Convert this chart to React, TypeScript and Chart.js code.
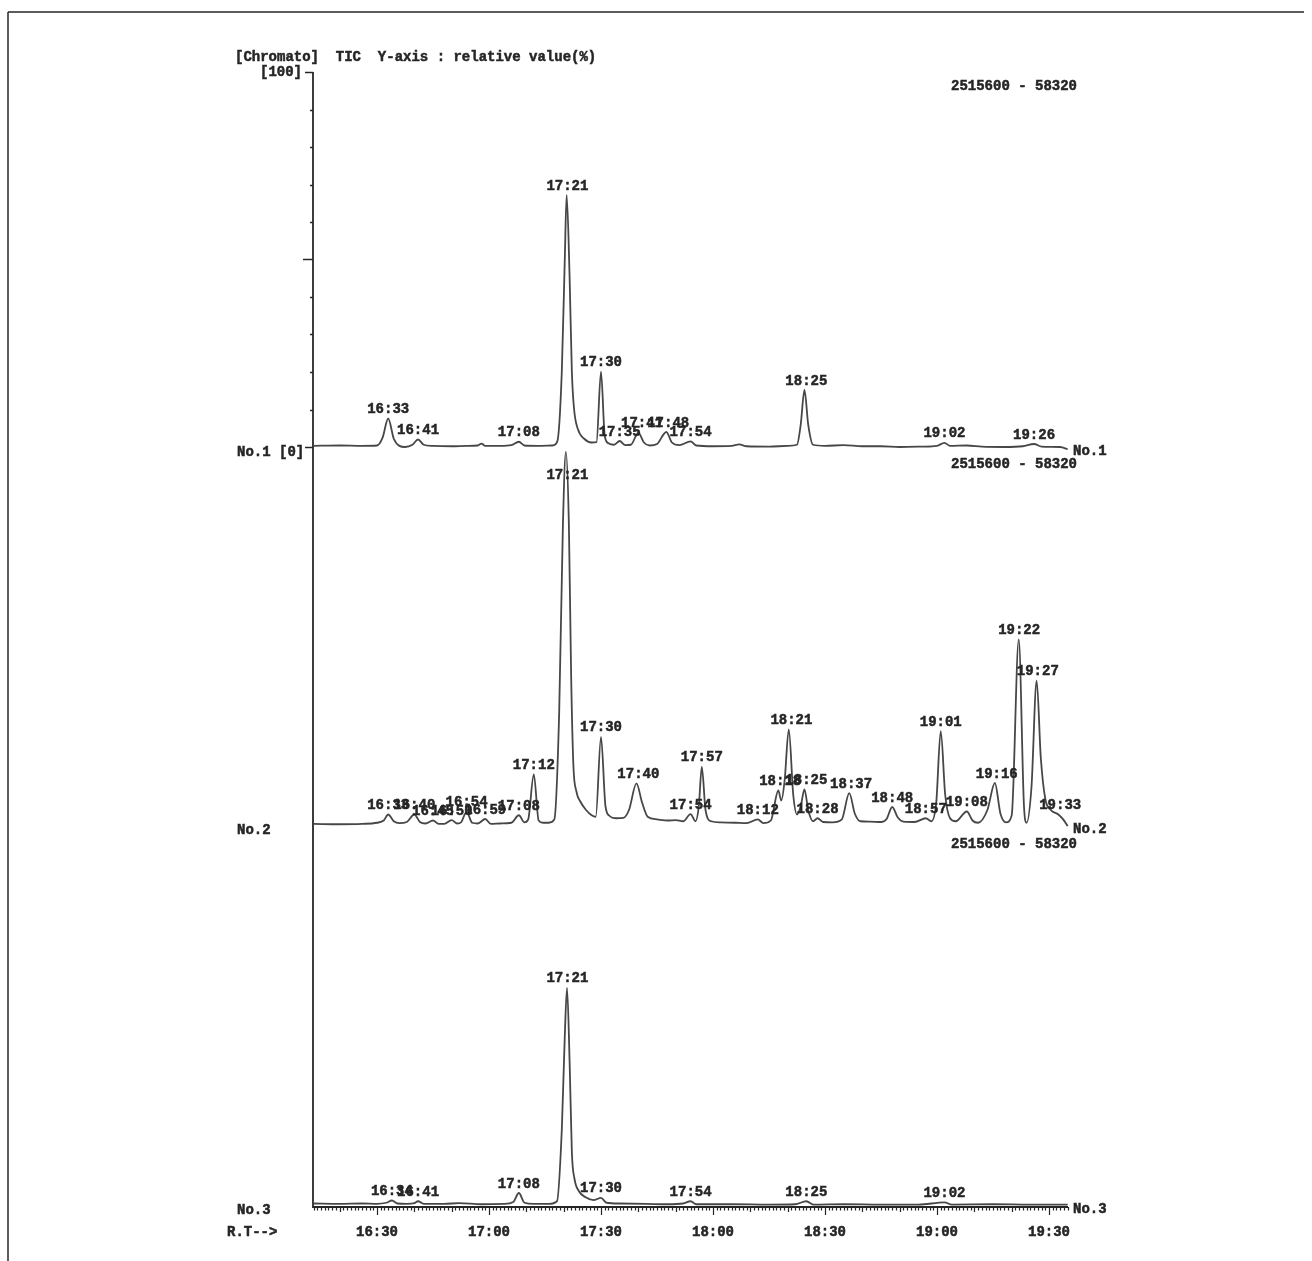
import React, { useEffect, useRef } from 'react';
import { Chart, registerables } from 'chart.js';

Chart.register(...registerables);

// ---------------- DATA (retention time in seconds, relative intensity in %) ----------------
const TRACE1: [number, number][] = [
  [973, 0.3], [980, 0.4], [986, 0.3], [990, 0.4], [991.5, 2.5], [993, 7.6], [994.5, 2.2], [996, 0.3],
  [997.5, 0.0], [999.5, 0.6], [1001, 2.0], [1002.5, 0.6], [1005, 0.3], [1010, 0.2], [1014, 0.3],
  [1017, 0.4], [1018, 0.9], [1019, 0.3], [1023, 0.3], [1026, 0.5], [1028, 1.4], [1029.5, 0.4],
  [1033, 0.3], [1037, 0.4], [1038.3, 1.5], [1039.5, 20], [1040.3, 50], [1040.8, 67.2], [1041.6, 45],
  [1042.2, 20], [1042.8, 10], [1043.8, 4.8], [1045.5, 2.2], [1047.5, 1.2], [1048.8, 1.3], [1050, 20.1],
  [1051, 3], [1052, 1.0], [1053.5, 0.6], [1055, 1.6], [1056.5, 0.5], [1058, 0.6], [1060, 3.8],
  [1061.5, 1.2], [1063, 0.4], [1065, 0.8], [1067.5, 4.0], [1069, 1.2], [1071, 0.5], [1074, 1.5],
  [1075.5, 0.4], [1080, 0.2], [1085, 0.3], [1087, 0.7], [1089, 0.2], [1095, 0.1], [1100, 0.3],
  [1102.5, 0.6], [1103.5, 6], [1104.5, 15.2], [1105.5, 6], [1106.8, 0.6], [1110, 0.3], [1115, 0.5],
  [1120, 0.2], [1125, 0.2], [1130, 0.0], [1136, 0.1], [1140, 0.3], [1142, 1.1], [1143.5, 0.3],
  [1148, 0.4], [1152, 0.1], [1158, 0.0], [1163, 0.2], [1166, 0.8], [1168, 0.1], [1173, 0.0], [1175, -0.6],
];

const TRACE2: [number, number][] = [
  [973, 0.3], [980, 0.2], [986, 0.3], [990, 0.6], [991.8, 1.2], [993, 2.8], [994.5, 1.0], [996, 0.5],
  [998, 0.8], [1000, 2.8], [1001.5, 0.8], [1003, 0.4], [1005, 1.2], [1006.5, 0.3], [1008, 0.3],
  [1010, 1.3], [1011.5, 0.4], [1012.5, 0.7], [1014, 3.5], [1015.5, 0.6], [1017, 0.4], [1019, 1.6],
  [1020.5, 0.3], [1023, 0.4], [1026, 0.6], [1028, 2.6], [1029.5, 0.7], [1030.5, 1.5], [1032, 13.5],
  [1033.3, 1.2], [1034.5, 0.6], [1036, 0.6], [1037.5, 1.5], [1038.8, 30], [1039.8, 80], [1040.6, 99.5],
  [1041.4, 80], [1042.0, 40], [1042.6, 16], [1043.4, 9], [1044.5, 6.2], [1046, 4.0], [1047.5, 2.6],
  [1048.6, 2.2], [1050, 23.5], [1051.2, 5], [1052.3, 2.4], [1054, 1.8], [1056, 1.9], [1057.5, 4],
  [1059.5, 11.1], [1061, 6], [1062.5, 2.2], [1065, 1.5], [1068, 1.2], [1070, 1.3], [1072, 1.0],
  [1074, 2.9], [1075.3, 1.0], [1076.2, 5], [1077, 15.5], [1078, 4], [1079.5, 1.0], [1082, 0.7],
  [1086, 0.6], [1089, 0.5], [1092, 1.5], [1093.5, 0.5], [1095.5, 1.2], [1097.5, 9.2], [1098.3, 6.5],
  [1099.2, 12], [1100.3, 25.5], [1101.5, 8], [1102.5, 2.8], [1103.5, 5], [1104.5, 9.5], [1105.5, 4],
  [1106.8, 1.0], [1108, 1.8], [1109.5, 0.8], [1112, 0.7], [1114.5, 1.5], [1116.5, 8.5], [1118, 3],
  [1119.5, 1.0], [1122, 0.9], [1125, 0.8], [1126.5, 1.6], [1128, 4.8], [1129.5, 2.0], [1131, 0.9],
  [1134, 0.8], [1137, 1.8], [1138.5, 1.0], [1139.8, 6], [1141, 25], [1142.2, 8], [1143.5, 1.8],
  [1145, 1.0], [1148, 3.6], [1149.5, 1.2], [1151, 0.6], [1153.5, 4], [1155.5, 11.2], [1157, 3],
  [1158.5, 0.7], [1160, 2.5], [1161.9, 49.5], [1163.3, 5], [1164, 0.6], [1165.3, 10], [1166.7, 38.5],
  [1167.8, 18], [1169, 7], [1170.5, 4.0], [1172.5, 2.8], [1173.8, 1.5], [1175, -0.3],
];

const TRACE3: [number, number][] = [
  [973, 0.4], [980, 0.3], [986, 0.4], [990, 0.3], [992.5, 0.6], [994, 1.2], [995.5, 0.4], [998, 0.3],
  [1000, 0.5], [1001, 1.0], [1002.5, 0.3], [1008, 0.3], [1012, 0.5], [1018, 0.2], [1024, 0.3],
  [1026.5, 0.8], [1028, 3.2], [1029.5, 0.6], [1032, 0.3], [1036, 0.3], [1038.2, 1.0], [1039.5, 20],
  [1040.3, 45], [1040.9, 57.9], [1041.6, 38], [1042.2, 14], [1042.9, 7], [1044, 3.8], [1046, 2.0],
  [1048, 1.3], [1050, 1.9], [1051.5, 0.6], [1055, 0.4], [1062, 0.3], [1068, 0.2], [1072, 0.4],
  [1074, 1.0], [1075.5, 0.2], [1085, 0.2], [1095, 0.1], [1102, 0.2], [1105, 1.0], [1107, 0.1],
  [1115, 0.2], [1125, 0.1], [1135, 0.1], [1142, 0.7], [1144, 0.1], [1155, 0.2], [1165, 0.1], [1175, 0.1],
];

const PEAKS1: [number, string][] = [
  [993, '16:33'], [1001, '16:41'], [1028, '17:08'], [1041, '17:21'], [1050, '17:30'], [1055, '17:35'],
  [1061, '17:41'], [1068, '17:48'], [1074, '17:54'], [1105, '18:25'], [1142, '19:02'], [1166, '19:26'],
];

const PEAKS2: [number, string][] = [
  [993, '16:33'], [1000, '16:40'], [1005, '16:45'], [1010, '16:50'], [1014, '16:54'], [1019, '16:59'],
  [1028, '17:08'], [1032, '17:12'], [1041, '17:21'], [1050, '17:30'], [1060, '17:40'], [1074, '17:54'],
  [1077, '17:57'], [1092, '18:12'], [1098, '18:18'], [1101, '18:21'], [1105, '18:25'], [1108, '18:28'],
  [1117, '18:37'], [1128, '18:48'], [1137, '18:57'], [1141, '19:01'], [1148, '19:08'], [1156, '19:16'],
  [1162, '19:22'], [1167, '19:27'], [1173, '19:33'],
];

const PEAKS3: [number, string][] = [
  [994, '16:34'], [1001, '16:41'], [1028, '17:08'], [1041, '17:21'], [1050, '17:30'], [1074, '17:54'],
  [1105, '18:25'], [1142, '19:02'],
];

const X_TICKS = [990, 1020, 1050, 1080, 1110, 1140, 1170];
const X_TICK_LABELS = ['16:30', '17:00', '17:30', '18:00', '18:30', '19:00', '19:30'];
const Y_TICKS = [0, 10, 20, 30, 40, 50, 60, 70, 80, 90, 100];
const TRACE_NAMES = ['No.1', 'No.2', 'No.3'];
const RANGE_TEXT = '2515600 - 58320';
const HEADER = '[Chromato]  TIC  Y-axis : relative value(%)';

// ---------------- LAYOUT ----------------
const W = 1312;
const H = 1261;
const AREA = { left: 313, right: 1068, top: 72, bottom: 1207 };
const X_MIN = 972.86;
const X_MAX = 1175.09;
const ZERO_PX = [447, 825, 1205];
const PX_PER_PCT = 3.75;
const INK = '#262626';
const LINE = '#474747';
const FONT = 'bold 14px "Liberation Mono", "DejaVu Sans Mono", monospace';

const yRange = (zero: number) => ({
  min: -(AREA.bottom - zero) / PX_PER_PCT,
  max: (zero - AREA.top) / PX_PER_PCT,
});

const TRACES = [TRACE1, TRACE2, TRACE3];
const PEAKS = [PEAKS1, PEAKS2, PEAKS3];
const Y_IDS = ['y1', 'y2', 'y3'];

const apexOf = (trace: [number, number][], t: number) => {
  let best = 0;
  trace.forEach(([x, v]) => {
    if (Math.abs(x - t) <= 1 && v > best) best = v;
  });
  return best;
};

const decor = {
  id: 'decor',
  beforeDatasetsDraw(chart: any) {
    const ctx = chart.ctx as CanvasRenderingContext2D;
    const xs = chart.scales.x;
    const y1 = chart.scales.y1;
    const seg = (a: number, b: number, c: number, d: number) => {
      ctx.beginPath();
      ctx.moveTo(a, b);
      ctx.lineTo(c, d);
      ctx.stroke();
    };
    ctx.save();
    ctx.strokeStyle = INK;
    ctx.lineWidth = 1.5;
    // page frame
    seg(8, 12, 1304, 12);
    seg(8, 12, 8, H);
    // vertical axis
    ctx.lineWidth = 1.8;
    seg(AREA.left, AREA.top, AREA.left, AREA.bottom + 1);
    ctx.lineWidth = 1.5;
    Y_TICKS.forEach((v) => {
      const py = Math.round(y1.getPixelForValue(v)) + 0.5;
      const len = v === 50 ? 10 : v === 0 || v === 100 ? 8 : 3;
      seg(AREA.left - len, py, AREA.left, py);
    });
    // time axis
    ctx.lineWidth = 1.8;
    seg(AREA.left, AREA.bottom, AREA.right, AREA.bottom);
    ctx.lineWidth = 1.2;
    for (let t = Math.ceil(X_MIN); t <= X_MAX; t++) {
      const px = Math.round(xs.getPixelForValue(t)) + 0.5;
      const len = t % 30 === 0 ? 8 : t % 10 === 0 ? 5 : 3.5;
      seg(px, AREA.bottom, px, AREA.bottom + len);
    }
    ctx.restore();
  },
  afterDatasetsDraw(chart: any) {
    const ctx = chart.ctx as CanvasRenderingContext2D;
    const xs = chart.scales.x;
    ctx.save();
    ctx.fillStyle = INK;
    ctx.strokeStyle = INK;
    ctx.lineWidth = 0.5;
    ctx.font = FONT;
    ctx.textBaseline = 'middle';
    const txt = (s: string, x: number, y: number) => {
      ctx.fillText(s, x, y);
      ctx.strokeText(s, x, y);
    };

    ctx.textAlign = 'left';
    txt(HEADER, 235, 57);
    txt('R.T-->', 227, 1232);

    Y_IDS.forEach((id, i) => {
      const ys = chart.scales[id];
      const zero = ys.getPixelForValue(0);
      const top = ys.getPixelForValue(100);
      ctx.textAlign = 'left';
      txt(i === 0 ? TRACE_NAMES[i] + ' [0]' : TRACE_NAMES[i], 237, zero + 5);
      txt(TRACE_NAMES[i], 1073, zero + 4);
      ctx.textAlign = 'right';
      txt(RANGE_TEXT, 1077, top + 14);
      if (i === 0) txt('[100]', 302, top);

      ctx.textAlign = 'center';
      PEAKS[i].forEach(([t, label]) => {
        const py = ys.getPixelForValue(apexOf(TRACES[i], t));
        const cy = Math.max(py - 9, top + 25);
        txt(label, xs.getPixelForValue(t), cy);
      });
    });

    ctx.textAlign = 'center';
    X_TICKS.forEach((t, i) => {
      txt(X_TICK_LABELS[i], xs.getPixelForValue(t), 1232);
    });
    ctx.restore();
  },
};

export default function App() {
  const ref = useRef<HTMLCanvasElement>(null);

  useEffect(() => {
    if (!ref.current) return;
    const scales: any = {
      x: { type: 'linear', min: X_MIN, max: X_MAX, display: false },
    };
    Y_IDS.forEach((id, i) => {
      const r = yRange(ZERO_PX[i]);
      scales[id] = { type: 'linear', position: 'left', min: r.min, max: r.max, display: false };
    });
    const chart = new Chart(ref.current, {
      type: 'line',
      data: {
        datasets: TRACES.map((trace, i) => ({
          label: TRACE_NAMES[i],
          data: trace.map(([x, y]) => ({ x, y })),
          yAxisID: Y_IDS[i],
          borderColor: LINE,
          borderWidth: 1.8,
          pointRadius: 0,
          cubicInterpolationMode: 'monotone' as const,
          borderJoinStyle: 'round' as const,
          fill: false,
          clip: false as any,
        })),
      },
      options: {
        responsive: false,
        animation: false,
        events: [],
        layout: {
          padding: {
            left: AREA.left,
            top: AREA.top,
            right: W - AREA.right,
            bottom: H - AREA.bottom,
          },
        },
        scales,
        plugins: {
          legend: { display: false },
          tooltip: { enabled: false },
          title: { display: false },
        },
      },
      plugins: [decor],
    });
    return () => chart.destroy();
  }, []);

  return (
    <div style={{ position: 'absolute', left: 0, top: 0, width: W, height: H, background: '#fff' }}>
      <canvas ref={ref} width={W} height={H} style={{ width: W, height: H, display: 'block' }} />
    </div>
  );
}
